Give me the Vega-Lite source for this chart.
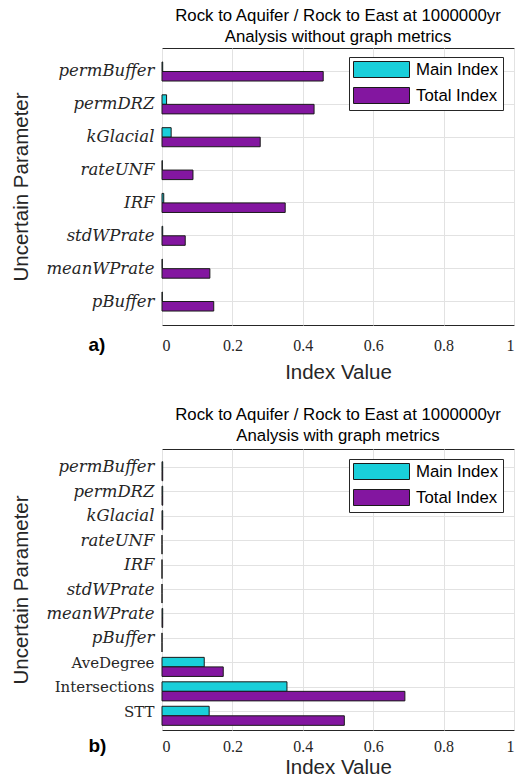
{
  "$schema": "https://vega.github.io/schema/vega-lite/v6.json",
  "background": "white",
  "padding": {"left": 11, "top": 7, "right": 2, "bottom": 2},
  "datasets": {
    "withoutGraph": [
      {"parameter": "permBuffer", "series": "Main Index", "value": 0.002},
      {"parameter": "permBuffer", "series": "Total Index", "value": 0.458},
      {"parameter": "permDRZ", "series": "Main Index", "value": 0.013},
      {"parameter": "permDRZ", "series": "Total Index", "value": 0.432},
      {"parameter": "kGlacial", "series": "Main Index", "value": 0.026},
      {"parameter": "kGlacial", "series": "Total Index", "value": 0.279},
      {"parameter": "rateUNF", "series": "Main Index", "value": 0.001},
      {"parameter": "rateUNF", "series": "Total Index", "value": 0.088},
      {"parameter": "IRF", "series": "Main Index", "value": 0.005},
      {"parameter": "IRF", "series": "Total Index", "value": 0.35},
      {"parameter": "stdWPrate", "series": "Main Index", "value": 0.002},
      {"parameter": "stdWPrate", "series": "Total Index", "value": 0.066},
      {"parameter": "meanWPrate", "series": "Main Index", "value": 0.001},
      {"parameter": "meanWPrate", "series": "Total Index", "value": 0.136},
      {"parameter": "pBuffer", "series": "Main Index", "value": 0.001},
      {"parameter": "pBuffer", "series": "Total Index", "value": 0.147}
    ],
    "withGraph": [
      {"parameter": "permBuffer", "series": "Main Index", "value": 0.002},
      {"parameter": "permBuffer", "series": "Total Index", "value": 0.002},
      {"parameter": "permDRZ", "series": "Main Index", "value": 0.002},
      {"parameter": "permDRZ", "series": "Total Index", "value": 0.002},
      {"parameter": "kGlacial", "series": "Main Index", "value": 0.002},
      {"parameter": "kGlacial", "series": "Total Index", "value": 0.002},
      {"parameter": "rateUNF", "series": "Main Index", "value": 0},
      {"parameter": "rateUNF", "series": "Total Index", "value": 0},
      {"parameter": "IRF", "series": "Main Index", "value": 0},
      {"parameter": "IRF", "series": "Total Index", "value": 0},
      {"parameter": "stdWPrate", "series": "Main Index", "value": 0},
      {"parameter": "stdWPrate", "series": "Total Index", "value": 0},
      {"parameter": "meanWPrate", "series": "Main Index", "value": 0.002},
      {"parameter": "meanWPrate", "series": "Total Index", "value": 0.002},
      {"parameter": "pBuffer", "series": "Main Index", "value": 0},
      {"parameter": "pBuffer", "series": "Total Index", "value": 0},
      {"parameter": "AveDegree", "series": "Main Index", "value": 0.12},
      {"parameter": "AveDegree", "series": "Total Index", "value": 0.174},
      {"parameter": "Intersections", "series": "Main Index", "value": 0.355},
      {"parameter": "Intersections", "series": "Total Index", "value": 0.69},
      {"parameter": "STT", "series": "Main Index", "value": 0.134},
      {"parameter": "STT", "series": "Total Index", "value": 0.518}
    ]
  },
  "config": {
    "font": "Liberation Sans",
    "view": {"stroke": "#262626", "strokeWidth": 1},
    "title": {"fontSize": 16.8, "fontWeight": "normal", "color": "#000000", "lineHeight": 21},
    "axis": {
      "domain": false,
      "ticks": false,
      "gridColor": "#e2e2e2",
      "gridWidth": 1,
      "labelColor": "#262626",
      "labelFont": "Liberation Serif",
      "titleColor": "#262626",
      "titleFont": "Liberation Sans",
      "titleFontSize": 20.5,
      "titleFontWeight": "normal"
    },
    "legend": {
      "orient": "none",
      "title": null,
      "fillColor": "white",
      "strokeColor": "#262626",
      "padding": 4,
      "rowPadding": 5,
      "symbolType": "M-3.5,-1H3.5V1H-3.5Z",
      "symbolSize": 256,
      "symbolOffset": 20,
      "symbolStrokeColor": "#1a1a1a",
      "symbolStrokeWidth": 1,
      "symbolOpacity": 1,
      "labelFont": "Liberation Sans",
      "labelFontSize": 16.8,
      "labelColor": "#000000",
      "labelOffset": 26
    },
    "concat": {"spacing": 0}
  },
  "spacing": 23,
  "vconcat": [
    {
      "title": {"text": "a)", "orient": "bottom", "anchor": "start", "fontSize": 19, "fontWeight": "bold", "dx": 77, "dy": -51},
      "vconcat": [
        {
          "title": {"text": ["Rock to Aquifer / Rock to East at 1000000yr", "Analysis without graph metrics"], "offset": 2},
          "width": 352,
          "height": 277,
          "data": {"name": "withoutGraph"},
          "mark": {"type": "bar", "stroke": "#1a1a1a", "strokeWidth": 1},
          "encoding": {
            "y": {
              "field": "parameter",
              "type": "nominal",
              "sort": ["permBuffer", "permDRZ", "kGlacial", "rateUNF", "IRF", "stdWPrate", "meanWPrate", "pBuffer"],
              "scale": {"paddingInner": 0.42, "paddingOuter": 0.425},
              "title": "Uncertain Parameter",
              "axis": {"labelFont": "DejaVu Serif", "labelFontSize": 16.5, "labelFontStyle": "italic", "labelPadding": 8, "titlePadding": 14, "grid": true, "bandPosition": 0.5}
            },
            "yOffset": {"field": "series", "type": "nominal", "sort": ["Main Index", "Total Index"]},
            "x": {
              "field": "value",
              "type": "quantitative",
              "scale": {"domain": [0, 1], "nice": false},
              "title": "Index Value",
              "axis": {"values": [0, 0.2, 0.4, 0.6, 0.8, 1], "format": "~g", "labelFontSize": 16, "labelPadding": 12, "titlePadding": 9}
            },
            "color": {
              "field": "series",
              "type": "nominal",
              "scale": {"domain": ["Main Index", "Total Index"], "range": ["#19cfda", "#8316a0"]},
              "legend": {"legendX": 187, "legendY": 9}
            }
          }
        }
      ]
    },
    {
      "title": {"text": "b)", "orient": "bottom", "anchor": "start", "fontSize": 19, "fontWeight": "bold", "dx": 77, "dy": -45},
      "vconcat": [
        {
          "title": {"text": ["Rock to Aquifer / Rock to East at 1000000yr", "Analysis with graph metrics"], "offset": 4},
          "width": 352,
          "height": 281,
          "data": {"name": "withGraph"},
          "mark": {"type": "bar", "stroke": "#1a1a1a", "strokeWidth": 1},
          "encoding": {
            "y": {
              "field": "parameter",
              "type": "nominal",
              "sort": ["permBuffer", "permDRZ", "kGlacial", "rateUNF", "IRF", "stdWPrate", "meanWPrate", "pBuffer", "AveDegree", "Intersections", "STT"],
              "scale": {"paddingInner": 0.55, "paddingOuter": 0.52},
              "title": "Uncertain Parameter",
              "axis": {
                "labelFont": "DejaVu Serif",
                "labelFontSize": {"condition": {"test": "indexof(['AveDegree','Intersections','STT'], datum.value) >= 0", "value": 15}, "value": 16.5},
                "labelFontStyle": {"condition": {"test": "indexof(['AveDegree','Intersections','STT'], datum.value) >= 0", "value": "normal"}, "value": "italic"},
                "labelPadding": 8,
                "titlePadding": 14,
                "grid": true,
                "bandPosition": 0.5
              }
            },
            "yOffset": {"field": "series", "type": "nominal", "sort": ["Main Index", "Total Index"]},
            "x": {
              "field": "value",
              "type": "quantitative",
              "scale": {"domain": [0, 1], "nice": false},
              "title": "Index Value",
              "axis": {"values": [0, 0.2, 0.4, 0.6, 0.8, 1], "format": "~g", "labelFontSize": 16, "labelPadding": 8, "titlePadding": 3}
            },
            "color": {
              "field": "series",
              "type": "nominal",
              "scale": {"domain": ["Main Index", "Total Index"], "range": ["#19cfda", "#8316a0"]},
              "legend": {"legendX": 187, "legendY": 10}
            }
          }
        }
      ]
    }
  ],
  "resolve": {"scale": {"y": "independent"}, "legend": {"color": "independent"}}
}
